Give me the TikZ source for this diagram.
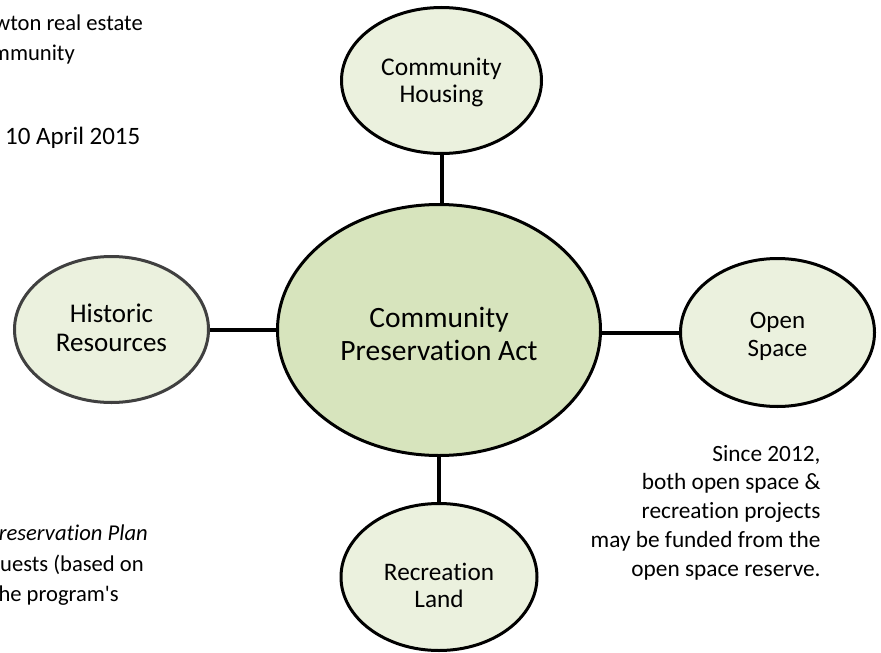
\documentclass[tikz,border=0pt]{standalone}
\usepackage{fontspec}
\setmainfont{Carlito}[Ligatures={TeXOff,NoCommon}]
\usetikzlibrary{shapes.geometric}
\definecolor{leaf}{HTML}{EBF1DE}
\definecolor{sage}{HTML}{D7E4BD}
\definecolor{rim}{HTML}{404040}
% invisible struts that fix the height of the first line and the depth of the last one
\newcommand\toprule[1]{\rule{0pt}{#1pt}}
\newcommand\botrule{\rule[-8pt]{0pt}{8pt}}
\tikzset{
  bubble/.style={ellipse, draw=black, line width=3pt, fill=leaf, inner sep=0pt, align=center},
  hub/.style={bubble, fill=sage},
  link/.style={line width=4pt},
  note/.style={inner sep=0pt, font=\fontsize{22.6}{30}\selectfont},
}
\begin{document}
\begin{tikzpicture}[x=1pt,y=-1pt]
\useasboundingbox (0,0) rectangle (881,653);
\clip (0,0) rectangle (881,653);

% central programme and its four funding areas
\node[hub, minimum width=323pt, minimum height=251pt, font=\fontsize{29.5}{32.7}\selectfont]
  (cpa) at (439,330) {\toprule{35.3}Community\\Preservation Act\botrule};
\node[bubble, minimum width=200pt, minimum height=146pt, font=\fontsize{25.5}{27.5}\selectfont]
  (housing) at (441.5,80.5) {\toprule{25}Community\\Housing\botrule};
\node[bubble, draw=rim, minimum width=194pt, minimum height=146pt, font=\fontsize{27}{29}\selectfont]
  (historic) at (111.5,329.5) {\toprule{23.4}Historic\\Resources\botrule};
\node[bubble, minimum width=194pt, minimum height=148pt, font=\fontsize{25}{28.7}\selectfont]
  (open) at (777.5,332.5) {\toprule{27.7}Open\\Space\botrule};
\node[bubble, minimum width=196pt, minimum height=147pt, font=\fontsize{25.2}{27.3}\selectfont]
  (recreation) at (439,577) {\toprule{41.3}Recreation\\Land\botrule};

% spokes
\draw[link] (housing.south) -- (housing.south |- cpa.north);
\draw[link] (historic.east) -- (historic.east -| cpa.west);
\draw[link] (open.west) -- (open.west -| cpa.east);
\draw[link] (recreation.north) -- (recreation.north |- cpa.south);

% side note on the open space reserve
\node[note, align=right, anchor=north east, font=\fontsize{23.3}{28.7}\selectfont] (reserve) at (820.7,445)
  {Since 2012,\\both open space \&\\recreation projects\\may be funded from the\\open space reserve.};

% running text along the left margin
\node[note, anchor=base east] (estate) at (143,30) {wton real estate};
\node[note, anchor=base east] (community) at (75,60.7) {mmunity};
\node[note, anchor=base west, font=\fontsize{25}{30}\selectfont] (date) at (5,144) {10 April 2015};
\node[note, anchor=base east, font=\fontsize{22.6}{30}\selectfont\itshape] (plan) at (148,540.7) {reservation Plan};
\node[note, anchor=base east] (requests) at (144,571.7) {uests (based on};
\node[note, anchor=base east] (program) at (119,601.7) {he program's};
\end{tikzpicture}
\end{document}
